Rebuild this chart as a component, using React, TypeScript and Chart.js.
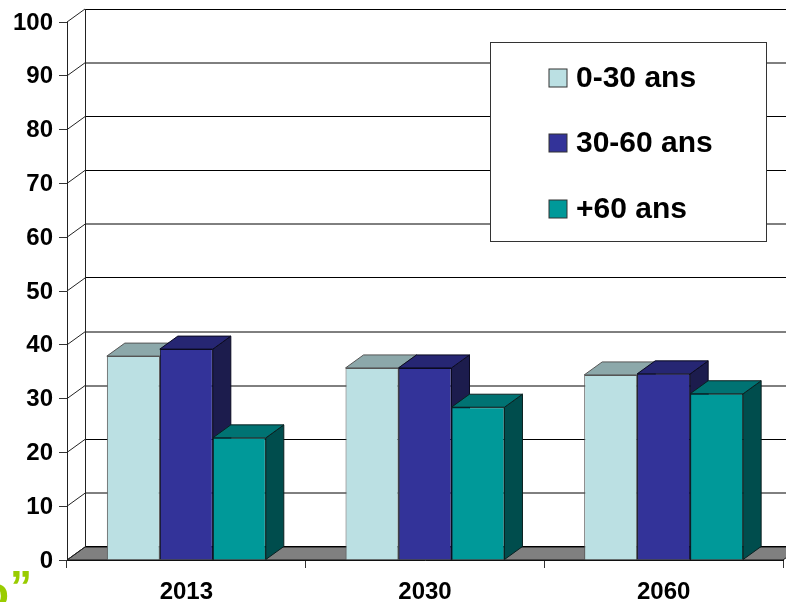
import React, { useEffect, useRef } from "react";
import { Chart, registerables } from "chart.js";

Chart.register(...registerables);

const years = ["2013", "2030", "2060"];
const young = [37.9, 35.7, 34.4];
const middle = [39.2, 35.7, 34.6];
const senior = [22.7, 28.4, 30.9];

const seriesNames = ["0-30 ans", "30-60 ans", "+60 ans"];
const fronts = ["#BBE0E3", "#333399", "#009999"];
const tops = ["#8CA8AA", "#262673", "#007373"];
const sides = ["#5E7072", "#1C1C4D", "#004D4D"];
const edges = ["#555555", "#0A0A20", "#0A2020"];

const DX = 18;
const DY = -13;
const FONT = "Arial, 'Liberation Sans', sans-serif";

// Wall lines that look soft and grey in the reference (they straddle two pixel rows)
const softGridValues = [10, 30, 40, 60, 90];

const poly = (ctx: CanvasRenderingContext2D, pts: number[][], fill: string | null, stroke: string) => {
  ctx.beginPath();
  pts.forEach((p, i) => (i ? ctx.lineTo(p[0], p[1]) : ctx.moveTo(p[0], p[1])));
  ctx.closePath();
  if (fill) {
    ctx.fillStyle = fill;
    ctx.fill();
  }
  ctx.strokeStyle = stroke;
  ctx.lineWidth = 1;
  ctx.stroke();
};

const wallPlugin = {
  id: "wall",
  beforeDatasetsDraw(chart: any) {
    const { ctx, chartArea: a, scales } = chart;
    const y = scales.y;
    ctx.save();
    poly(ctx, [[a.left, a.bottom], [a.left + DX, a.bottom + DY], [a.right + DX, a.bottom + DY], [a.right, a.bottom]], "#808080", "#111");
    y.ticks.forEach((t: any) => {
      const raw = y.getPixelForValue(t.value);
      const soft = softGridValues.includes(t.value);
      const back = soft ? Math.round(raw) + DY : Math.max(Math.floor(raw - 0.3) + 0.5 + DY, a.top + DY + 0.5);
      ctx.beginPath();
      ctx.strokeStyle = "#000";
      ctx.lineWidth = 1;
      ctx.moveTo(a.left + DX, back);
      ctx.lineTo(a.right + DX, back);
      ctx.stroke();
      ctx.beginPath();
      ctx.strokeStyle = "#222";
      ctx.moveTo(a.left, raw);
      ctx.lineTo(a.left + DX, raw + DY);
      ctx.stroke();
    });
    ctx.beginPath();
    ctx.strokeStyle = "#222";
    ctx.moveTo(a.left + DX + 0.5, a.top + DY);
    ctx.lineTo(a.left + DX + 0.5, a.bottom + DY);
    ctx.stroke();
    ctx.restore();
  },
  // The bars are painted left to right below, so that each front hides its neighbour's side.
  beforeDatasetDraw() {
    return false;
  },
  afterDatasetsDraw(chart: any) {
    const { ctx } = chart;
    ctx.save();
    chart.data.datasets.forEach((_d: any, i: number) => {
      const meta = chart.getDatasetMeta(i);
      meta.data.forEach((bar: any) => {
        const p = bar.getProps(["x", "y", "base", "width"], true);
        const l = p.x - p.width / 2;
        const r = p.x + p.width / 2;
        poly(ctx, [[r, p.y], [r + DX, p.y + DY], [r + DX, p.base + DY], [r, p.base]], sides[i], edges[i]);
        poly(ctx, [[l, p.y], [l + DX, p.y + DY], [r + DX, p.y + DY], [r, p.y]], tops[i], edges[i]);
      });
      meta.controller.draw();
    });

    ctx.fillStyle = "#fff";
    ctx.fillRect(490.5, 42.5, 276, 199);
    ctx.strokeStyle = "#333";
    ctx.lineWidth = 1;
    ctx.strokeRect(490.5, 42.5, 276, 199);
    const rowY = [78, 143, 209];
    ctx.font = `bold 30px ${FONT}`;
    ctx.textBaseline = "middle";
    ctx.textAlign = "left";
    chart.data.datasets.forEach((d: any, i: number) => {
      ctx.fillStyle = d.backgroundColor;
      ctx.fillRect(549, rowY[i] - 9, 18, 18);
      ctx.strokeStyle = "#333";
      ctx.strokeRect(549, rowY[i] - 9, 18, 18);
      ctx.fillStyle = "#000";
      ctx.fillText(d.label, 576, rowY[i] + 1);
    });

    // Cropped slide title fragment
    ctx.fillStyle = "#99CC00";
    ctx.font = `bold 44px ${FONT}`;
    ctx.textBaseline = "alphabetic";
    ctx.fillText("”", 10, 602);
    ctx.fillText("o", -18, 608);
    ctx.restore();
  },
};

export default function App() {
  const ref = useRef<HTMLCanvasElement>(null);
  useEffect(() => {
    document.body.style.margin = "0";
    const series = [young, middle, senior];
    const chart = new Chart(ref.current!, {
      type: "bar",
      data: {
        labels: years,
        datasets: series.map((data, i) => ({
          label: seriesNames[i],
          data,
          backgroundColor: fronts[i],
          borderColor: edges[i],
          borderWidth: 1,
          categoryPercentage: 0.666,
          barPercentage: 1,
        })),
      },
      options: {
        animation: false,
        responsive: false,
        devicePixelRatio: 1,
        layout: { padding: { top: 22, right: 3, left: 0, bottom: 0 } },
        plugins: { legend: { display: false }, tooltip: { enabled: false } },
        scales: {
          x: {
            afterFit: (s: any) => {
              s.height = 42;
            },
            grid: { drawOnChartArea: false, color: "#333", tickLength: 8 },
            border: { color: "#111" },
            ticks: { color: "#000", font: { family: FONT, weight: "bold", size: 24 }, padding: 10, maxRotation: 0 },
          },
          y: {
            min: 0,
            max: 100,
            afterFit: (s: any) => {
              s.width = 67;
            },
            grid: { drawOnChartArea: false, color: "#333", tickLength: 8 },
            border: { color: "#222" },
            ticks: { stepSize: 10, color: "#000", font: { family: FONT, weight: "bold", size: 24 }, padding: 6, labelOffset: 1 },
          },
        },
      },
      plugins: [wallPlugin],
    } as any);
    return () => chart.destroy();
  }, []);
  return <canvas ref={ref} width={786} height={602} style={{ display: "block", width: 786, height: 602 }} />;
}
